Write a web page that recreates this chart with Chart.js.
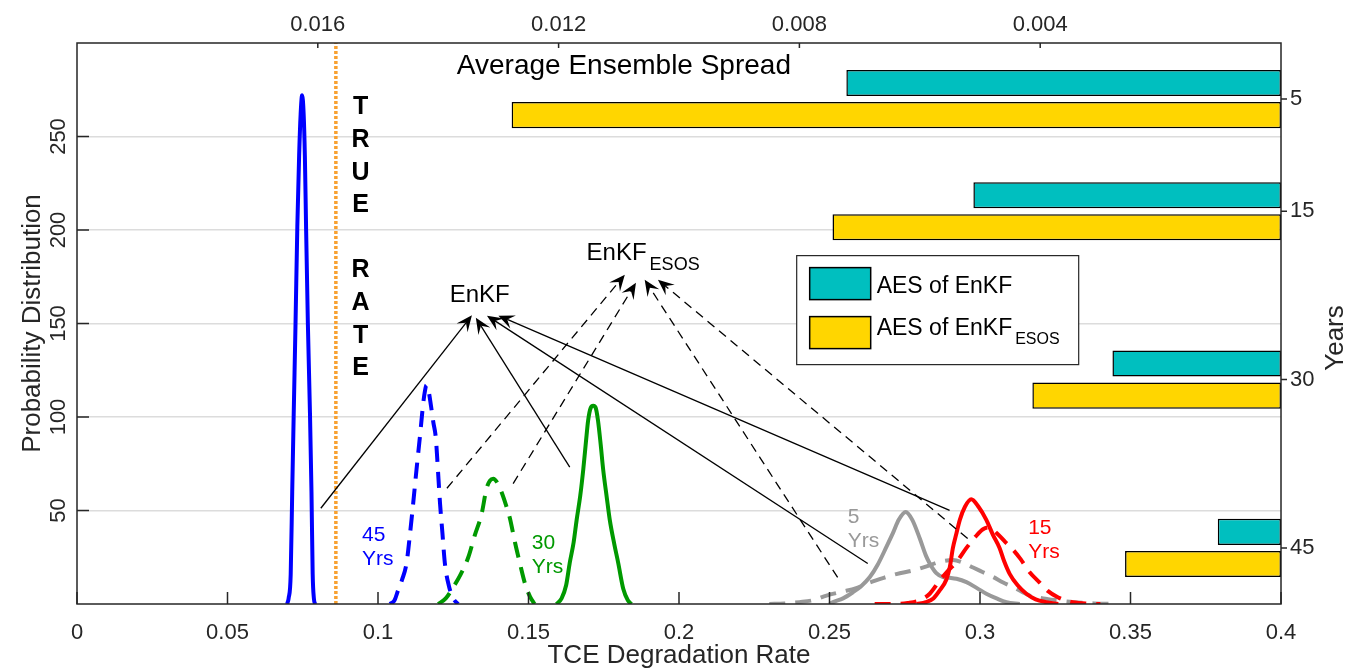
<!DOCTYPE html>
<html>
<head>
<meta charset="utf-8">
<script src="https://cdn.jsdelivr.net/npm/chart.js@4.4.1/dist/chart.umd.min.js"></script>
<style>
  html, body { margin: 0; padding: 0; background: #fff; }
  #wrap { width: 1355px; height: 671px; }
</style>
</head>
<body>
<div id="wrap"><canvas id="chart" width="1355" height="671"></canvas></div>
<script>
// ---- axis ticks ----
const xTickValues = [0, 0.05, 0.1, 0.15, 0.2, 0.25, 0.3, 0.35, 0.4];
const xTickLabels = ["0", "0.05", "0.1", "0.15", "0.2", "0.25", "0.3", "0.35", "0.4"];
const spreadTickValues = [0.016, 0.012, 0.008, 0.004];
const spreadTickLabels = ["0.016", "0.012", "0.008", "0.004"];
const yTickValues = [50, 100, 150, 200, 250];
const yearTickValues = [5, 15, 30, 45];

// ---- average ensemble spread bars ----
const years = [5, 15, 30, 45];
const aesEnKF = [0.00722, 0.00511, 0.0028, 0.00105];
const aesEsos = [0.01278, 0.00745, 0.00413, 0.00259];

const trueRate = 0.086;

// ---- probability distributions [rate, density] ----
const enkf45 = [[0.0698,0],[0.0703,3],[0.0710,16],[0.0715,60],[0.0720,102],[0.0726,150],[0.0732,202],[0.0738,240],[0.0743,262],[0.0748,272],[0.0753,262],[0.0757,240],[0.0761,202],[0.0767,150],[0.0774,102],[0.0779,60],[0.0783,16],[0.0787,3],[0.0791,0]];
const esos45 = [[0.1040,0],[0.1055,2],[0.1066,7],[0.1080,13],[0.1095,22],[0.1106,37],[0.1117,54],[0.1128,72],[0.1139,89],[0.1150,107],[0.1156,114],[0.1161,117],[0.1168,114],[0.1176,106],[0.1184,97],[0.1192,89],[0.1199,72],[0.1206,54],[0.1214,38],[0.1222,22],[0.1235,10],[0.1250,3],[0.1266,0]];
const esos30 = [[0.1200,0],[0.1225,3],[0.1250,9],[0.1275,16],[0.1300,25],[0.1322,37],[0.1344,48],[0.1361,62],[0.1372,66],[0.1383,67],[0.1396,65],[0.1410,60],[0.1425,53],[0.1438,46],[0.1455,33],[0.1471,22],[0.1490,10],[0.1505,4],[0.1520,0]];
const enkf30 = [[0.1593,0],[0.1610,3],[0.1625,10],[0.1637,22],[0.1650,33],[0.1660,45],[0.1672,58],[0.1682,72],[0.1691,87],[0.1698,98],[0.1707,105],[0.1715,106],[0.1723,105],[0.1731,98],[0.1740,85],[0.1748,72],[0.1760,57],[0.1770,45],[0.1785,32],[0.1798,22],[0.1815,8],[0.1830,2],[0.1842,0]];
const enkf5 = [[0.2500,0],[0.2512,1],[0.2545,3],[0.2578,6.3],[0.2605,9.5],[0.2634,14.4],[0.2660,21],[0.2689,30.5],[0.2711,38],[0.2730,45],[0.2753,49.2],[0.2775,45],[0.2800,35],[0.2820,26],[0.2833,21.7],[0.2855,16.5],[0.2877,14.4],[0.2900,14],[0.2922,13.5],[0.2955,11.7],[0.2990,8.5],[0.3021,5.5],[0.3055,3],[0.3088,1],[0.3132,0]];
const esos5 = [[0.2300,0],[0.2350,0.3],[0.2400,1],[0.2445,2],[0.2490,4.5],[0.2540,6.5],[0.2589,8.5],[0.2634,11.5],[0.2680,14],[0.2722,16],[0.2778,18],[0.2820,20],[0.2866,22.5],[0.2910,23.5],[0.2945,22],[0.2977,19.5],[0.3010,17],[0.3043,14.5],[0.3077,11.5],[0.3110,9],[0.3140,6.5],[0.3165,4.5],[0.3210,3],[0.3254,2],[0.3308,1],[0.3380,0.3],[0.3447,0]];
const enkf15 = [[0.2790,0],[0.2820,1],[0.2845,3],[0.2865,7],[0.2888,13],[0.2900,20],[0.2910,30],[0.2922,38],[0.2933,45],[0.2950,52],[0.2971,56],[0.2995,52],[0.3021,45],[0.3043,37],[0.3065,30],[0.3080,23],[0.3099,16],[0.3125,10],[0.3154,5.5],[0.3185,2.5],[0.3220,1],[0.3260,0]];
const esos15 = [[0.2650,0],[0.2720,0],[0.2760,0.5],[0.2800,2],[0.2833,5.5],[0.2866,12.5],[0.2895,18],[0.2922,22.5],[0.2955,30],[0.2985,36],[0.3010,40],[0.3030,41],[0.3055,38],[0.3085,33],[0.3110,29],[0.3135,24],[0.3165,17],[0.3195,12],[0.3225,7],[0.3260,3.5],[0.3300,1.2],[0.3350,0.3],[0.3400,0]];

// ---- annotation arrows [fromRate, fromDensity, toRate, toDensity] ----
const enkfArrows = [[0.0810,51.2,0.1312,154.4],[0.1637,73.2,0.1325,153.1],[0.2627,21.7,0.1362,154.2],[0.2899,50.1,0.1400,154.2]];
const esosArrows = [[0.1229,61.9,0.1820,176.1],[0.1449,64.4,0.1857,171.8],[0.2527,14.2,0.1886,173.4],[0.2959,35.0,0.1930,173.4]];

const FONT = '"Liberation Sans", Arial, Helvetica, sans-serif';
const AXIS_COLOR = "#262626";

Chart.defaults.font.family = FONT;
Chart.defaults.color = AXIS_COLOR;

function toPoints(arr) {
  return arr.map((p) => ({ x: p[0], y: p[1] }));
}

function curve(data, color, dashed) {
  return {
    type: "line",
    data: toPoints(data),
    borderColor: color,
    borderWidth: 4,
    borderDash: dashed ? [16, 10] : [],
    pointRadius: 0,
    cubicInterpolationMode: "monotone",
    xAxisID: "x",
    yAxisID: "y",
    fill: false,
  };
}

function drawArrow(ctx, x1, y1, x2, y2, dashed) {
  const ang = Math.atan2(y2 - y1, x2 - x1);
  const ux = Math.cos(ang), uy = Math.sin(ang);
  const nx = -uy, ny = ux;
  const hl = 16, hw = 7;
  ctx.save();
  ctx.strokeStyle = "#000";
  ctx.fillStyle = "#000";
  ctx.lineWidth = 1.3;
  ctx.setLineDash(dashed ? [9, 6] : []);
  ctx.beginPath();
  ctx.moveTo(x1, y1);
  ctx.lineTo(x2 - ux * hl * 0.6, y2 - uy * hl * 0.6);
  ctx.stroke();
  ctx.setLineDash([]);
  ctx.beginPath();
  ctx.moveTo(x2, y2);
  ctx.lineTo(x2 - ux * hl + nx * hw, y2 - uy * hl + ny * hw);
  ctx.lineTo(x2 - ux * hl * 0.6, y2 - uy * hl * 0.6);
  ctx.lineTo(x2 - ux * hl - nx * hw, y2 - uy * hl - ny * hw);
  ctx.closePath();
  ctx.fill();
  ctx.restore();
}

function drawSubText(ctx, x, y, main, sub, size, subSize, color) {
  ctx.fillStyle = color;
  ctx.textAlign = "left";
  ctx.textBaseline = "alphabetic";
  ctx.font = `${size}px ${FONT}`;
  ctx.fillText(main, x, y);
  const w = ctx.measureText(main).width;
  ctx.font = `${subSize}px ${FONT}`;
  ctx.fillText(sub, x + w + 3, y + subSize * 0.6);
}

const curveLabels = [
  { text: ["45", "Yrs"], x: 0.0947, y: 36.7, color: "#0000ff" },
  { text: ["30", "Yrs"], x: 0.1511, y: 32.4, color: "#009900" },
  { text: ["5", "Yrs"], x: 0.2561, y: 46.4, color: "#999999" },
  { text: ["15", "Yrs"], x: 0.3160, y: 40.5, color: "#ff0000" },
];

const trueRateLetters = ["T", "R", "U", "E", "", "R", "A", "T", "E"];

const annotate = {
  id: "annotate",
  afterDatasetsDraw(chart) {
    const { ctx, scales } = chart;
    const px = (v) => scales.x.getPixelForValue(v);
    const py = (v) => scales.y.getPixelForValue(v);
    ctx.save();

    enkfArrows.forEach((a) => drawArrow(ctx, px(a[0]), py(a[1]), px(a[2]), py(a[3]), false));
    esosArrows.forEach((a) => drawArrow(ctx, px(a[0]), py(a[1]), px(a[2]), py(a[3]), true));

    // TRUE RATE column
    ctx.fillStyle = "#000";
    ctx.font = `bold 25px ${FONT}`;
    ctx.textAlign = "center";
    ctx.textBaseline = "middle";
    trueRateLetters.forEach((ch, i) => {
      ctx.fillText(ch, px(0.0942), py(266) + i * 32.6 + 1);
    });

    ctx.font = `28px ${FONT}`;
    ctx.fillText("Average Ensemble Spread", px(0.1817), py(287.7));

    ctx.font = `24px ${FONT}`;
    ctx.fillText("EnKF", px(0.1338), py(164.9));
    drawSubText(ctx, px(0.1693), py(189.0) + 9, "EnKF", "ESOS", 24, 18, "#000");

    ctx.font = `21px ${FONT}`;
    ctx.textAlign = "left";
    ctx.textBaseline = "middle";
    curveLabels.forEach((lab) => {
      ctx.fillStyle = lab.color;
      lab.text.forEach((t, i) => ctx.fillText(t, px(lab.x), py(lab.y) + i * 24));
    });

    // legend
    const lx = px(0.2391), ly = py(186.3);
    ctx.fillStyle = "#fff";
    ctx.fillRect(lx, ly, 282, 109);
    ctx.strokeStyle = "#262626";
    ctx.lineWidth = 1.2;
    ctx.strokeRect(lx, ly, 282, 109);
    ctx.lineWidth = 1.5;
    ctx.strokeStyle = "#000";
    ctx.fillStyle = "#00bfbf";
    ctx.fillRect(lx + 13, ly + 12, 61, 32);
    ctx.strokeRect(lx + 13, ly + 12, 61, 32);
    ctx.fillStyle = "#ffd600";
    ctx.fillRect(lx + 13, ly + 61, 61, 32);
    ctx.strokeRect(lx + 13, ly + 61, 61, 32);
    ctx.fillStyle = "#000";
    ctx.font = `23px ${FONT}`;
    ctx.textBaseline = "alphabetic";
    ctx.fillText("AES of EnKF", lx + 80, ly + 37);
    drawSubText(ctx, lx + 80, ly + 79, "AES of EnKF", "ESOS", 23, 16, "#000");

    ctx.restore();
  },
  afterDraw(chart) {
    const { ctx, chartArea: ca, scales } = chart;
    ctx.save();
    ctx.strokeStyle = AXIS_COLOR;
    ctx.lineWidth = 1.5;
    ctx.strokeRect(ca.left, ca.top, ca.right - ca.left, ca.bottom - ca.top);

    ctx.beginPath();
    xTickValues.forEach((v) => {
      const x = scales.x.getPixelForValue(v);
      ctx.moveTo(x, ca.bottom);
      ctx.lineTo(x, ca.bottom - 12);
    });
    spreadTickValues.forEach((v) => {
      const x = scales.x2.getPixelForValue(v);
      ctx.moveTo(x, ca.top);
      ctx.lineTo(x, ca.top + 5);
    });
    yTickValues.forEach((v) => {
      const y = scales.y.getPixelForValue(v);
      ctx.moveTo(ca.left, y);
      ctx.lineTo(ca.left + 12, y);
    });
    yearTickValues.forEach((v) => {
      const y = scales.y2.getPixelForValue(v);
      ctx.moveTo(ca.right, y);
      ctx.lineTo(ca.right + 6, y);
    });
    ctx.stroke();

    // axis titles
    ctx.fillStyle = AXIS_COLOR;
    ctx.font = `26px ${FONT}`;
    ctx.textAlign = "center";
    ctx.textBaseline = "middle";
    ctx.fillText("TCE Degradation Rate", (ca.left + ca.right) / 2, 656);

    ctx.save();
    ctx.translate(33, (ca.top + ca.bottom) / 2);
    ctx.rotate(-Math.PI / 2);
    ctx.fillText("Probability Distribution", 0, 0);
    ctx.restore();

    ctx.save();
    ctx.translate(1336, 338);
    ctx.rotate(-Math.PI / 2);
    ctx.fillText("Years", 0, 0);
    ctx.restore();

    ctx.restore();
  },
};

const ctx = document.getElementById("chart");

new Chart(ctx, {
  type: "line",
  data: {
    datasets: [
      curve(enkf45, "#0000ff", false),
      curve(esos45, "#0000ff", true),
      curve(esos30, "#009900", true),
      curve(enkf30, "#009900", false),
      curve(esos15, "#ff0000", true),
      curve(enkf15, "#ff0000", false),
      curve(esos5, "#999999", true),
      curve(enkf5, "#999999", false),
      {
        type: "line",
        data: [{ x: trueRate, y: 0 }, { x: trueRate, y: 300 }],
        borderColor: "#f8a030",
        borderWidth: 3.5,
        borderDash: [3, 2],
        pointRadius: 0,
        xAxisID: "x",
        yAxisID: "y",
      },
      {
        type: "bar",
        indexAxis: "y",
        label: "AES of EnKF",
        data: years.map((yr, i) => ({ x: aesEnKF[i], y: yr })),
        backgroundColor: "#00bfbf",
        borderColor: "#000",
        borderWidth: 1.5,
        borderSkipped: false,
        categoryPercentage: 1.1428,
        barPercentage: 0.8125,
        xAxisID: "x2",
        yAxisID: "y2",
      },
      {
        type: "bar",
        indexAxis: "y",
        label: "AES of EnKF ESOS",
        data: years.map((yr, i) => ({ x: aesEsos[i], y: yr })),
        backgroundColor: "#ffd600",
        borderColor: "#000",
        borderWidth: 1.5,
        borderSkipped: false,
        categoryPercentage: 1.1428,
        barPercentage: 0.8125,
        xAxisID: "x2",
        yAxisID: "y2",
      },
    ],
  },
  options: {
    responsive: false,
    animation: false,
    layout: { padding: 0 },
    plugins: {
      legend: { display: false },
      tooltip: { enabled: false },
    },
    scales: {
      x: {
        type: "linear",
        position: "bottom",
        min: 0,
        max: 0.4,
        afterBuildTicks: (s) => { s.ticks = xTickValues.map((v) => ({ value: v })); },
        afterFit: (s) => { s.height = 67; },
        ticks: {
          callback: (v, i) => xTickLabels[i],
          autoSkip: false,
          maxRotation: 0,
          padding: 16,
          font: { size: 22 },
        },
        grid: { display: false, drawTicks: false },
        border: { display: false },
      },
      x2: {
        type: "linear",
        position: "top",
        min: 0,
        max: 0.02,
        reverse: true,
        offset: false,
        afterBuildTicks: (s) => { s.ticks = spreadTickValues.map((v) => ({ value: v })); },
        afterFit: (s) => { s.height = 43; },
        ticks: {
          callback: (v, i) => spreadTickLabels[i],
          autoSkip: false,
          maxRotation: 0,
          padding: 5,
          font: { size: 22 },
        },
        grid: { display: false, drawTicks: false },
        border: { display: false },
      },
      y: {
        type: "linear",
        position: "left",
        min: 0,
        max: 300,
        afterBuildTicks: (s) => { s.ticks = yTickValues.map((v) => ({ value: v })); },
        afterFit: (s) => { s.width = 77; },
        ticks: {
          minRotation: 90,
          maxRotation: 90,
          crossAlign: "center",
          padding: 0,
          font: { size: 22 },
        },
        grid: { color: "#dcdcdc", lineWidth: 1.5, drawTicks: false },
        border: { display: false },
      },
      y2: {
        type: "linear",
        position: "right",
        min: 0,
        max: 50,
        reverse: true,
        offset: false,
        afterBuildTicks: (s) => { s.ticks = yearTickValues.map((v) => ({ value: v })); },
        afterFit: (s) => { s.width = 74; },
        ticks: {
          autoSkip: false,
          padding: 9,
          font: { size: 22 },
        },
        grid: { display: false, drawTicks: false, offset: false },
        border: { display: false },
      },
    },
  },
  plugins: [annotate],
});
</script>
</body>
</html>
